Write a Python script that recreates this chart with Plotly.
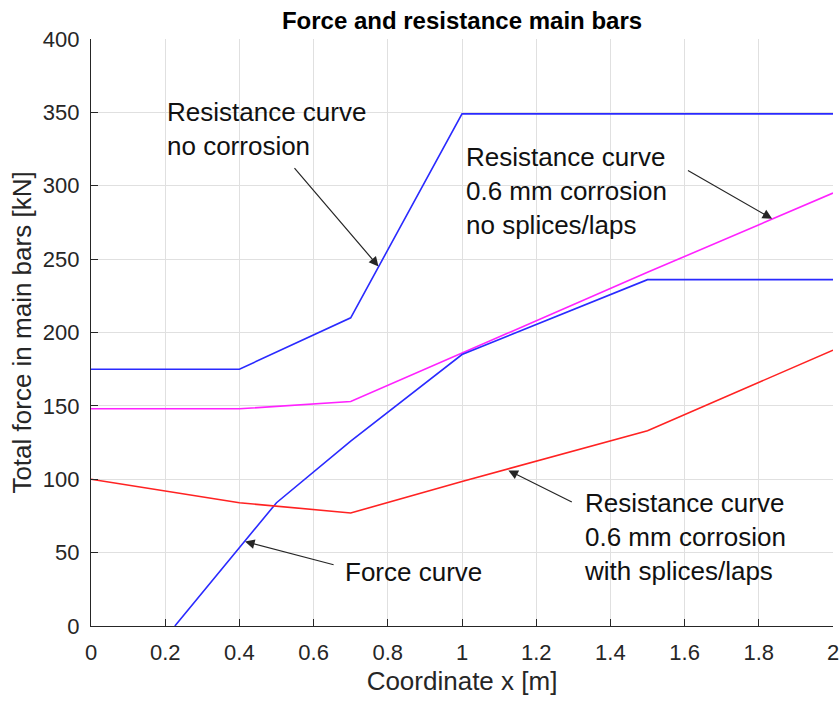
import plotly.graph_objects as go

# Resistance curve without corrosion
x_nocorr = [0.0, 0.4, 0.7, 1.0, 2.0]
y_nocorr = [175, 175, 210, 349, 349]

# Resistance curve, 0.6 mm corrosion, no splices/laps
x_corr = [0.0, 0.4, 0.7, 1.0, 1.5, 2.0]
y_corr = [148, 148, 153, 186, 241, 295]

# Force curve
x_force = [0.226, 0.5, 0.7, 1.0, 1.5, 2.0]
y_force = [0, 84, 126, 185, 236, 236]

# Resistance curve, 0.6 mm corrosion, with splices/laps
x_splice = [0.0, 0.4, 0.7, 1.0, 1.5, 2.0]
y_splice = [100, 84, 77, 98.5, 133, 188]

x_ticks = [0, 0.2, 0.4, 0.6, 0.8, 1.0, 1.2, 1.4, 1.6, 1.8, 2.0]
x_tick_text = ["0", "0.2", "0.4", "0.6", "0.8", "1", "1.2", "1.4", "1.6", "1.8", "2"]
y_ticks = [0, 50, 100, 150, 200, 250, 300, 350, 400]

FONT = "Liberation Sans, Arial, Helvetica, sans-serif"
TXT = "#262626"
BLUE = "#2a2aff"

fig = go.Figure()
fig.add_trace(go.Scatter(x=x_nocorr, y=y_nocorr, mode="lines",
                         line=dict(color=BLUE, width=1.6)))
fig.add_trace(go.Scatter(x=x_corr, y=y_corr, mode="lines",
                         line=dict(color="#ff22ff", width=1.6)))
fig.add_trace(go.Scatter(x=x_force, y=y_force, mode="lines",
                         line=dict(color=BLUE, width=1.6)))
fig.add_trace(go.Scatter(x=x_splice, y=y_splice, mode="lines",
                         line=dict(color="#ff2222", width=1.6)))

# Text labels
labels = [
    (0.2, 339, "Resistance curve<br>no corrosion"),
    (1.006, 296.5, "Resistance curve<br>0.6 mm corrosion<br>no splices/laps"),
    (0.68, 37, "Force curve"),
    (1.324, 60.5, "Resistance curve<br>0.6 mm corrosion<br>with splices/laps"),
]
for lx, ly, t in labels:
    fig.add_annotation(x=lx, y=ly, text=t, showarrow=False, xanchor="left",
                       yanchor="middle", align="left",
                       font=dict(family=FONT, size=26, color="#111111"))

# Arrows: (tail x, tail y, head x, head y)
arrows = [
    (0.545, 313, 0.775, 245),
    (1.605, 311, 1.836, 277.5),
    (0.658, 41.5, 0.415, 57.5),
    (1.300, 84, 1.125, 106),
]
for tx, ty, hx, hy in arrows:
    fig.add_annotation(x=hx, y=hy, ax=tx, ay=ty, axref="x", ayref="y",
                       text="", showarrow=True, arrowhead=2, arrowsize=1.6,
                       arrowwidth=1.2, arrowcolor="#262626", standoff=0)

axis_common = dict(
    showline=True, linecolor=TXT, linewidth=1.2, mirror=False,
    showgrid=True, gridcolor="#e0e0e0", gridwidth=1,
    ticks="inside", ticklen=7, tickcolor=TXT, tickwidth=1,
    zeroline=False, automargin=False,
    tickfont=dict(family=FONT, size=22, color=TXT),
)

fig.update_layout(
    width=840, height=701,
    margin=dict(l=91, r=7, t=39, b=75),
    paper_bgcolor="white", plot_bgcolor="white",
    showlegend=False,
    title=dict(text="<b>Force and resistance main bars</b>", x=(91 + 833) / 2 / 840,
               xanchor="center", y=1 - 21 / 701, yanchor="middle",
               font=dict(family=FONT, size=24, color="#000000")),
    xaxis=dict(range=[0, 2], tickvals=x_ticks, ticktext=x_tick_text,
               title=dict(text="Coordinate x [m]", standoff=8,
                          font=dict(family=FONT, size=26, color=TXT)),
               ticklabelstandoff=6, **axis_common),
    yaxis=dict(range=[0, 400], tickvals=y_ticks,
               title=dict(text="Total force in main bars [kN]", standoff=3,
                          font=dict(family=FONT, size=26, color=TXT)),
               ticklabelstandoff=6, **axis_common),
)

fig.write_html("out.html")
